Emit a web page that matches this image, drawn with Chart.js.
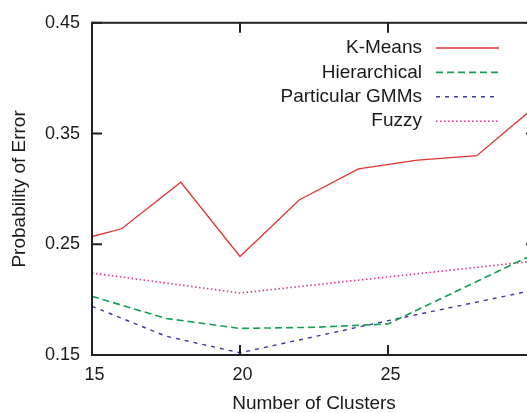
<!DOCTYPE html>
<html>
<head>
<meta charset="utf-8">
<script src="https://cdn.jsdelivr.net/npm/chart.js@4"></script>
<style>
  html, body { margin: 0; padding: 0; background: #fff; overflow: hidden; }
  #chart { display: block; }
</style>
</head>
<body>
<canvas id="chart" width="545" height="413"></canvas>
<script>
// values
const xTicks = [15, 20, 25];
const yTicks = [0.15, 0.25, 0.35, 0.45];

const kmeansX = [15, 16, 18, 20, 22, 24, 26, 28, 30];
const kmeansY = [0.257, 0.264, 0.306, 0.239, 0.290, 0.318, 0.326, 0.330, 0.375];

const hierX = [15, 17.5, 20, 22.5, 25, 30];
const hierY = [0.203, 0.183, 0.174, 0.175, 0.178, 0.242];

const gmmX = [15, 17.5, 20, 25, 30];
const gmmY = [0.194, 0.167, 0.152, 0.181, 0.209];

const fuzzyX = [15, 20, 25, 30];
const fuzzyY = [0.224, 0.206, 0.2205, 0.235];

function pts(xs, ys) {
  return xs.map((x, i) => ({x: x, y: ys[i]}));
}

Chart.defaults.font.family = '"Liberation Sans", Arial, Helvetica, sans-serif';
Chart.defaults.font.size = 18;
Chart.defaults.color = '#1a1a1a';

// box round the plot with inward ticks on all four sides
const frame = {
  id: 'frame',
  afterDatasetsDraw(chart) {
    const {ctx, chartArea: a, scales: {x, y}} = chart;
    ctx.save();
    ctx.strokeStyle = '#222';
    ctx.lineWidth = 2;
    ctx.strokeRect(a.left, a.top, a.right - a.left, a.bottom - a.top);
    ctx.beginPath();
    xTicks.forEach(v => {
      const px = x.getPixelForValue(v);
      ctx.moveTo(px, a.bottom); ctx.lineTo(px, a.bottom - 10);
      ctx.moveTo(px, a.top); ctx.lineTo(px, a.top + 10);
    });
    yTicks.forEach(v => {
      const py = y.getPixelForValue(v);
      ctx.moveTo(a.left, py); ctx.lineTo(a.left + 10, py);
      ctx.moveTo(a.right, py); ctx.lineTo(a.right - 10, py);
    });
    ctx.stroke();
    ctx.restore();
  }
};

// gnuplot style key: text right aligned, sample line after it
const key = {
  id: 'key',
  afterDatasetsDraw(chart) {
    const ctx = chart.ctx;
    ctx.save();
    ctx.font = '19px "Liberation Sans", Arial, sans-serif';
    ctx.textAlign = 'right';
    ctx.textBaseline = 'middle';
    chart.data.datasets.forEach((ds, i) => {
      const yy = 48 + i * 24.4;
      ctx.fillStyle = '#1a1a1a';
      ctx.fillText(ds.label, 422, yy);
      ctx.strokeStyle = ds.borderColor;
      ctx.lineWidth = ds.borderWidth;
      ctx.setLineDash(ds.borderDash || []);
      ctx.beginPath();
      ctx.moveTo(436, yy);
      ctx.lineTo(499, yy);
      ctx.stroke();
    });
    ctx.restore();
  }
};

new Chart(document.getElementById('chart'), {
  type: 'line',
  data: {
    datasets: [
      {label: 'K-Means', data: pts(kmeansX, kmeansY), borderColor: '#e23333', borderWidth: 1.3},
      {label: 'Hierarchical', data: pts(hierX, hierY), borderColor: '#12a055', borderWidth: 1.6, borderDash: [7, 4]},
      {label: 'Particular GMMs', data: pts(gmmX, gmmY), borderColor: '#3a3a9e', borderWidth: 1.4, borderDash: [4, 5]},
      {label: 'Fuzzy', data: pts(fuzzyX, fuzzyY), borderColor: '#e0308f', borderWidth: 1.6, borderDash: [1.5, 2.5]}
    ]
  },
  options: {
    responsive: false,
    animation: false,
    layout: {padding: {left: 0, top: 21, right: 9, bottom: 0}},
    elements: {point: {radius: 0}, line: {tension: 0, fill: false}},
    plugins: {legend: {display: false}, tooltip: {enabled: false}},
    scales: {
      x: {
        type: 'linear',
        min: 15,
        max: 30,
        grid: {display: false, drawTicks: false},
        border: {display: false},
        afterBuildTicks: s => { s.ticks = xTicks.map(v => ({value: v})); },
        afterFit: s => { s.height = 58; },
        ticks: {padding: 9, maxRotation: 0, labelOffset: 2.5},
        title: {display: true, text: 'Number of Clusters', font: {size: 19, lineHeight: 1}, padding: {top: 0, bottom: 0}}
      },
      y: {
        min: 0.15,
        max: 0.45,
        grid: {display: false, drawTicks: false},
        border: {display: false},
        afterBuildTicks: s => { s.ticks = yTicks.map(v => ({value: v})); },
        afterFit: s => { s.width = 92; },
        ticks: {padding: 12, callback: v => v.toFixed(2)},
        title: {display: true, text: 'Probability of Error', font: {size: 19, lineHeight: 1}, padding: {top: 10, bottom: 0}}
      }
    }
  },
  plugins: [frame, key]
});
</script>
</body>
</html>
